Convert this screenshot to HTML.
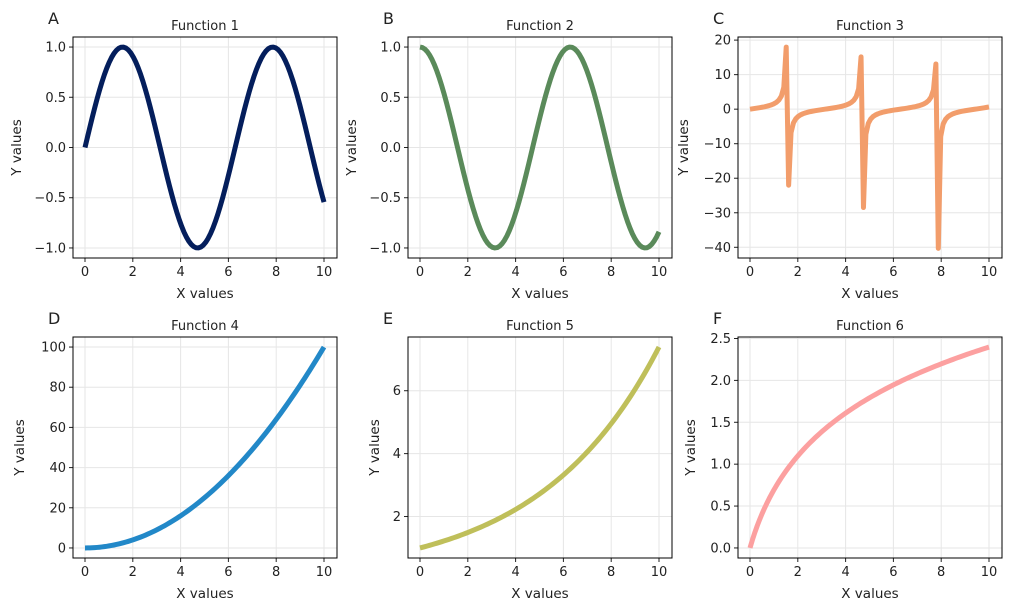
<!DOCTYPE html>
<html><head><meta charset="utf-8"><style>
body{margin:0;background:#fff}
svg text{font-family:"DejaVu Sans","Liberation Sans",sans-serif;fill:#222}
</style></head><body>
<svg id="s" width="1011" height="611" xmlns="http://www.w3.org/2000/svg"></svg>
<script>
const s=document.getElementById('s');let h='';
const N=100,xs=[];for(let i=0;i<N;i++)xs.push(10*i/(N-1));
const P=[
 {L:73,T:37,f:Math.sin,ymin:-1.1,ymax:1.1,ticks:[-1,-0.5,0,0.5,1],fmt:v=>v.toFixed(1),c:'#041e5c',t:'Function 1',k:'A',yl:-52},
 {L:408,T:37,f:Math.cos,ymin:-1.1,ymax:1.1,ticks:[-1,-0.5,0,0.5,1],fmt:v=>v.toFixed(1),c:'#5a8a5a',t:'Function 2',k:'B',yl:-52},
 {L:738,T:37,f:Math.tan,ymin:-43.1,ymax:20.9,ticks:[-40,-30,-20,-10,0,10,20],fmt:v=>''+v,c:'#f29d6b',t:'Function 3',k:'C',yl:-50},
 {L:73,T:337,f:x=>x*x,ymin:-5,ymax:105,ticks:[0,20,40,60,80,100],fmt:v=>''+v,c:'#2288c8',t:'Function 4',k:'D',yl:-49},
 {L:408,T:337,f:x=>Math.exp(x/5),ymin:0.681,ymax:7.708,ticks:[2,4,6],fmt:v=>''+v,c:'#bfbf5a',t:'Function 5',k:'E',yl:-29},
 {L:738,T:337,f:x=>Math.log(x+1),ymin:-0.12,ymax:2.518,ticks:[0,0.5,1,1.5,2,2.5],fmt:v=>v.toFixed(1),c:'#fca0a0',t:'Function 6',k:'F',yl:-43}
];
for(const p of P){
 const W=264,H=221,L=p.L,T=p.T;
 const X=x=>L+12+x*23.9, Y=y=>T+H-(y-p.ymin)/(p.ymax-p.ymin)*H;
 for(let x=0;x<=10;x+=2){h+=`<line x1="${X(x)}" x2="${X(x)}" y1="${T}" y2="${T+H}" stroke="#e6e6e6" stroke-width="1"/>`;
  h+=`<line x1="${X(x)}" x2="${X(x)}" y1="${T+H}" y2="${T+H+4}" stroke="#222"/>`;
  h+=`<text x="${X(x)}" y="${T+H+18}" font-size="13" text-anchor="middle">${x}</text>`;}
 for(const v of p.ticks){const y=Y(v);
  h+=`<line x1="${L}" x2="${L+W}" y1="${y}" y2="${y}" stroke="#e6e6e6"/>`;
  h+=`<line x1="${L-4}" x2="${L}" y1="${y}" y2="${y}" stroke="#222"/>`;
  h+=`<text x="${L-7}" y="${y+4.5}" font-size="13" text-anchor="end">${p.fmt(v).replace('-','\u2212')}</text>`;}
 let d='';xs.forEach((x,i)=>{d+=(i?'L':'M')+X(x).toFixed(2)+','+Y(p.f(x)).toFixed(2)});
 h+=`<path d="${d}" fill="none" stroke="${p.c}" stroke-width="5" stroke-linejoin="round"/>`;
 h+=`<rect x="${L}" y="${T}" width="${W}" height="${H}" fill="none" stroke="#000" stroke-width="1"/>`;
 h+=`<text x="${L+W/2}" y="${T-7}" font-size="13" text-anchor="middle">${p.t}</text>`;
 h+=`<text x="${L+W/2}" y="${T+H+40}" font-size="13.5" text-anchor="middle">X values</text>`;
 h+=`<text transform="translate(${L+p.yl},${T+H/2}) rotate(-90)" font-size="13.5" text-anchor="middle">Y values</text>`;
 h+=`<text x="${L-25}" y="${T-13}" font-size="16">${p.k}</text>`;
}
s.innerHTML=h;
</script>
</body></html>
